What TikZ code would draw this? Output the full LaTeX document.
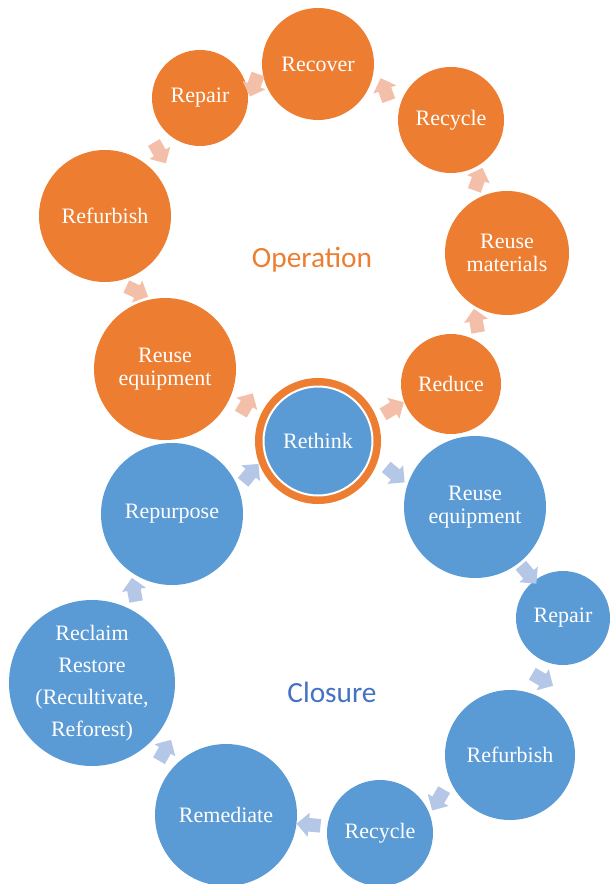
\documentclass[tikz,border=0pt]{standalone}
\usepackage{fontspec}
\setmainfont{Liberation Serif}
\newfontfamily\labelfont{Carlito}
\usetikzlibrary{shapes.arrows}
\definecolor{opOrange}{HTML}{ED7D31}
\definecolor{clBlue}{HTML}{5B9BD5}
\definecolor{opArrow}{HTML}{F4BFA9}
\definecolor{clArrow}{HTML}{B4C7E7}
\definecolor{clText}{HTML}{4472C4}
\begin{document}
\begin{tikzpicture}[x=0.75pt,y=-0.75pt,
        stage/.style={circle,inner sep=0pt,text=white,align=center,minimum size={1.5pt*#1},font=\fontsize{16.5}{17.25}\selectfont},
        opstage/.style={stage=#1,fill=opOrange},
        clstage/.style={stage=#1,fill=clBlue},
        flow/.style={single arrow,inner xsep=0pt,inner ysep=4.9pt,minimum width=0pt,minimum height=18pt,single arrow head extend=4pt,rotate=#1},
        opflow/.style={flow=#1,fill=opArrow},
        clflow/.style={flow=#1,fill=clArrow},
        looplabel/.style={font=\labelfont\fontsize{22}{26}\selectfont}]
                \useasboundingbox (0,0) rectangle (610,884);
                \node[opstage=63] (rethink) at (318,441) {};
                \node[clstage=54.5,draw=white,line width=1.5pt] (rethinkin) at (rethink) {Rethink};
                \node[opstage=50] (reduce) at (451,384) {Reduce};
                \node[opstage=62] (reusemat) at (507,253) {Reuse\\materials};
                \node[opstage=53] (recycleop) at (451,120) {Recycle};
                \node[opstage=56] (recover) at (318,64) {Recover};
                \node[opstage=48] (repairop) at (200,98) {Repair};
                \node[opstage=66] (refurbop) at (105,216) {Refurbish};
                \node[opstage=71] (reuseop) at (165,369) {Reuse\\equipment};
                \node[clstage=71] (reusecl) at (475,507) {Reuse\\equipment};
                \node[clstage=47] (repaircl) at (563,618) {Repair};
                \node[clstage=65] (refurbcl) at (510,755) {Refurbish};
                \node[clstage=53] (recyclecl) at (380,833) {Recycle};
                \node[clstage=71] (remediate) at (226,815) {Remediate};
                \node[clstage=83,font=\fontsize{16.5}{24}\selectfont] (reclaim) at (92,683) {Reclaim\\Restore\\(Recultivate,\\Reforest)};
                \node[clstage=71] (repurpose) at (172,514) {Repurpose};
                \node[looplabel,text=opOrange] (operation) at (312,260) {Operation};
                \node[looplabel,text=clText] (closure) at (332,692) {Closure};
                \path (rethink) -- (reduce) node[midway,opflow=30] {};
                \path (reduce) -- (reusemat) node[midway,opflow=100] {};
                \path (reusemat) -- (recycleop) node[midway,opflow=70] {};
                \path (recycleop) -- (recover) node[midway,opflow=110] {};
                \path (recover) -- (repairop) node[midway,opflow=250] {};
                \path (repairop) -- (refurbop) node[midway,opflow=300] {};
                \path (refurbop) -- (reuseop) node[midway,opflow=-25] {};
                \path (reuseop) -- (rethink) node[midway,opflow=60] {};
                \path (rethink) -- (reusecl) node[midway,clflow=-40] {};
                \path (reusecl) -- (repaircl) node[midway,clflow=-50] {};
                \path (repaircl) -- (refurbcl) node[midway,clflow=-30] {};
                \path (refurbcl) -- (recyclecl) node[midway,clflow=-120] {};
                \path (recyclecl) -- (remediate) node[midway,clflow=175] {};
                \path (remediate) -- (reclaim) node[midway,clflow=60] {};
                \path (reclaim) -- (repurpose) node[midway,clflow=100] {};
                \path (repurpose) -- (rethink) node[midway,clflow=50] {};
            \end{tikzpicture}
\end{document}
